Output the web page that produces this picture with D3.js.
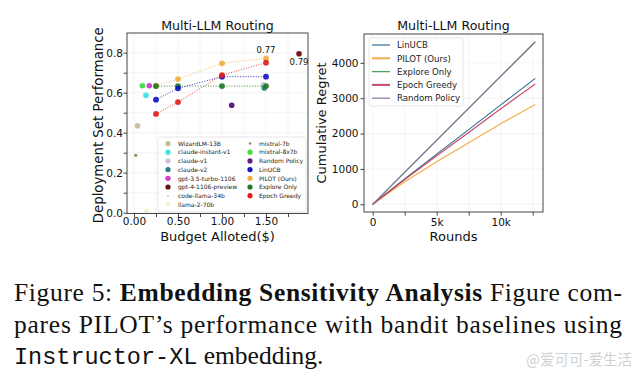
<!DOCTYPE html>
<html><head><meta charset="utf-8">
<script src="https://cdn.jsdelivr.net/npm/d3@7"></script>
<style>body{margin:0;background:#fff}svg{display:block}</style>
</head><body>
<svg id="c" width="639" height="380"></svg>
<script>
// ---------- data: left panel ----------
const modelNames = ["WizardLM-13B","claude-instant-v1","claude-v1","claude-v2","gpt-3.5-turbo-1106","gpt-4-1106-preview","code-llama-34b","llama-2-70b","mistral-7b","mixtral-8x7b"];
const modelCost  = [0.04, 0.136, 1.47, 1.48, 0.174, 1.875, 0.13, 0.145, 0.02, 0.095];
const modelPerf  = [0.435, 0.587, 0.64, 0.624, 0.635, 0.795, 0.005, 0.01, 0.287, 0.635];
const randomCost = [1.11];
const randomPerf = [0.537];
const budgets = [0.25, 0.5, 1.0, 1.5];
const linucbPerf  = [0.565, 0.622, 0.68, 0.68];
const pilotPerf   = [0.635, 0.668, 0.747, 0.772];
const explorePerf = [0.633, 0.633, 0.633, 0.633];
const epochPerf   = [0.494, 0.553, 0.688, 0.75];
const leftYTicks = [0.0, 0.2, 0.4, 0.6, 0.8];
const leftXTicks = [0.0, 0.5, 1.0, 1.5];
const leftXTickLabels = ["0.00", "0.50", "1.00", "1.50"];

// ---------- data: right panel ----------
const rounds = [0, 2500, 5000, 7500, 10000, 12700];
const regretLinUCB  = [0, 720, 1420, 2110, 2810, 3561];
const regretPILOT   = [0, 640, 1200, 1740, 2280, 2824];
const regretExplore = [0, 905, 1808, 2710, 3615, 4590];
const regretEpoch   = [0, 700, 1370, 2030, 2700, 3400];
const regretRandom  = [0, 908, 1815, 2720, 3625, 4598];
const rightYTicks = [0, 1000, 2000, 3000, 4000];
const rightXTicks = [0, 5000, 10000];
const rightXTickLabels = ["0", "5k", "10k"];

// ---------- styles ----------
const modelColors = ["#c9b99b","#3fe3e3","#cbc3d6","#2a7f80","#d23ad2","#6a0d0d","#b8b8b8","#f6f0c4","#8c8c45","#3fe03f"];
const modelRadius = [2.8,2.8,2.8,2.8,2.8,2.8,0.9,2.2,1.6,2.8];
const C = {linucb:"#1414c4", pilot:"#f0b040", explore:"#217a21", epoch:"#e01e1e", random:"#5f1f7f"};
const RC = {linucb:"#2f6d8c", pilot:"#f2a43a", explore:"#3a9a4a", epoch:"#c2385c", random:"#84709e"};

const svg = d3.select("#c");
svg.append("rect").attr("width",639).attr("height",380).attr("fill","#fff");
const font = "DejaVu Sans, sans-serif";

// ================= LEFT PANEL =================
const L = {l:127, r:308, t:33, b:213.5};
const xL = d3.scaleLinear().domain([-0.0795, 1.977]).range([L.l, L.r]);
const yL = d3.scaleLinear().domain([-0.004, 0.8985]).range([L.b, L.t]);
const gL = svg.append("g");

// grid
const xMinorL = d3.range(0, 1.76, 0.25);
const yMinorL = d3.range(0, 0.81, 0.1);
gL.selectAll(".gx").data(xMinorL).join("line").attr("x1",d=>xL(d)).attr("x2",d=>xL(d)).attr("y1",L.t).attr("y2",L.b).attr("stroke","#ececec").attr("stroke-width",0.6);
gL.selectAll(".gy").data(yMinorL).join("line").attr("y1",d=>yL(d)).attr("y2",d=>yL(d)).attr("x1",L.l).attr("x2",L.r).attr("stroke","#ececec").attr("stroke-width",0.6);

// axes
const axXL = d3.axisBottom(xL).tickValues(xMinorL).tickSize(3.5).tickFormat(d => { const i = leftXTicks.findIndex(v=>Math.abs(v-d)<1e-6); return i>=0 ? leftXTickLabels[i] : ""; });
const axYL = d3.axisLeft(yL).tickValues(yMinorL).tickSize(3.5).tickFormat(d => leftYTicks.some(v=>Math.abs(v-d)<1e-6) ? d3.format(".1f")(d) : "");
gL.append("g").attr("transform",`translate(0,${L.b})`).call(axXL).call(g=>{g.select(".domain").remove();g.selectAll("text").attr("font-size",10.5).attr("font-family",font).attr("fill","#111").attr("y",4).attr("dy","0.71em");g.selectAll("line").attr("stroke","#444");});
gL.append("g").attr("transform",`translate(${L.l},0)`).call(axYL).call(g=>{g.select(".domain").remove();g.selectAll("text").attr("font-size",10.5).attr("font-family",font).attr("fill","#111").attr("x",-4);g.selectAll("line").attr("stroke","#444");});

// dotted series lines
const lineL = d3.line().x(d=>xL(d[0])).y(d=>yL(d[1]));
const series = [
  {v:explorePerf, c:C.explore},
  {v:epochPerf, c:C.epoch},
  {v:linucbPerf, c:C.linucb},
  {v:pilotPerf, c:C.pilot}
];
series.forEach(s=>{
  gL.append("path").attr("d", lineL(budgets.map((b,i)=>[b,s.v[i]]))).attr("fill","none").attr("stroke",s.c).attr("stroke-width",1).attr("stroke-dasharray","1,1.6").attr("opacity",0.85);
});
// model points
modelNames.forEach((n,i)=>{
  gL.append("circle").attr("cx",xL(modelCost[i])).attr("cy",yL(modelPerf[i])).attr("r",modelRadius[i]).attr("fill",modelColors[i]).attr("opacity",0.95);
});
gL.append("circle").attr("cx",xL(randomCost[0])).attr("cy",yL(randomPerf[0])).attr("r",2.8).attr("fill",C.random);
// bandit points
[{v:pilotPerf,c:C.pilot},{v:explorePerf,c:C.explore},{v:linucbPerf,c:C.linucb},{v:epochPerf,c:C.epoch}].forEach(s=>{
  budgets.forEach((b,i)=>gL.append("circle").attr("cx",xL(b)).attr("cy",yL(s.v[i])).attr("r",2.9).attr("fill",s.c).attr("opacity",0.92));
});
// annotations
gL.append("text").attr("x",xL(budgets[3])).attr("y",yL(pilotPerf[3])-5).attr("text-anchor","middle").attr("font-size",8.5).attr("font-family",font).attr("fill","#111").text("0.77");
gL.append("text").attr("x",xL(modelCost[5])).attr("y",yL(modelPerf[5])+11).attr("text-anchor","middle").attr("font-size",8.5).attr("font-family",font).attr("fill","#111").text("0.79");

// spines
gL.append("rect").attr("x",L.l).attr("y",L.t).attr("width",L.r-L.l).attr("height",L.b-L.t).attr("fill","none").attr("stroke","#333").attr("stroke-width",0.9);

// legend
const legL = gL.append("g");
legL.append("rect").attr("x",158).attr("y",137).attr("width",148).attr("height",75).attr("fill","#fff").attr("fill-opacity",0.85).attr("stroke","#ddd").attr("stroke-width",0.7).attr("rx",2);
const legItemsL = modelNames.slice(0,8).map((n,i)=>({n, c:modelColors[i], r:modelRadius[i]}));
const legItemsR = [
  {n:modelNames[8], c:modelColors[8], r:1.2},
  {n:modelNames[9], c:modelColors[9], r:2.6},
  {n:"Random Policy", c:C.random, r:2.6},
  {n:"LinUCB", c:C.linucb, r:2.6},
  {n:"PILOT (Ours)", c:C.pilot, r:2.6},
  {n:"Explore Only", c:C.explore, r:2.6},
  {n:"Epoch Greedy", c:C.epoch, r:2.6}
];
legItemsL.forEach((d,i)=>{
  const y = 143.5 + i*8.7;
  legL.append("circle").attr("cx",168).attr("cy",y).attr("r",Math.min(d.r,2.6)).attr("fill",d.c);
  legL.append("text").attr("x",178).attr("y",y+2.2).attr("font-size",6).attr("font-family",font).attr("fill","#222").text(d.n);
});
legItemsR.forEach((d,i)=>{
  const y = 143.5 + i*8.7;
  legL.append("circle").attr("cx",250).attr("cy",y).attr("r",d.r).attr("fill",d.c);
  legL.append("text").attr("x",259).attr("y",y+2.2).attr("font-size",6).attr("font-family",font).attr("fill","#222").text(d.n);
});

// titles
gL.append("text").attr("x",(L.l+L.r)/2).attr("y",30).attr("text-anchor","middle").attr("font-size",12.6).attr("font-family",font).attr("fill","#111").text("Multi-LLM Routing");
gL.append("text").attr("x",(L.l+L.r)/2).attr("y",241).attr("text-anchor","middle").attr("font-size",13).attr("font-family",font).attr("fill","#111").text("Budget Alloted($)");
gL.append("text").attr("transform",`translate(103,${(L.t+L.b)/2+2}) rotate(-90)`).attr("text-anchor","middle").attr("font-size",13.3).attr("font-family",font).attr("fill","#111").text("Deployment Set Performance");

// ================= RIGHT PANEL =================
const R = {l:364, r:543, t:34, b:212};
const xR = d3.scaleLinear().domain([-680, 13305]).range([R.l, R.r]);
const yR = d3.scaleLinear().domain([-218, 4816]).range([R.b, R.t]);
const gR = svg.append("g");
const xMinorR = d3.range(0, 12501, 2500);
gR.selectAll(".gx").data(xMinorR).join("line").attr("x1",d=>xR(d)).attr("x2",d=>xR(d)).attr("y1",R.t).attr("y2",R.b).attr("stroke","#ececec").attr("stroke-width",0.6);
gR.selectAll(".gy").data(rightYTicks).join("line").attr("y1",d=>yR(d)).attr("y2",d=>yR(d)).attr("x1",R.l).attr("x2",R.r).attr("stroke","#ececec").attr("stroke-width",0.6);

const axXR = d3.axisBottom(xR).tickValues(xMinorR).tickSize(3.5).tickFormat(d=>{const i=rightXTicks.indexOf(d);return i>=0?rightXTickLabels[i]:"";});
const axYR = d3.axisLeft(yR).tickValues(rightYTicks).tickSize(3.5).tickFormat(d3.format("d"));
gR.append("g").attr("transform",`translate(0,${R.b})`).call(axXR).call(g=>{g.select(".domain").remove();g.selectAll("text").attr("font-size",10.5).attr("font-family",font).attr("fill","#111").attr("y",7).attr("dy","0.71em");g.selectAll("line").attr("stroke","#444");});
gR.append("g").attr("transform",`translate(${R.l},0)`).call(axYR).call(g=>{g.select(".domain").remove();g.selectAll("text").attr("font-size",10.5).attr("font-family",font).attr("fill","#111").attr("x",-5.5);g.selectAll("line").attr("stroke","#444");});

const lineR = d3.line().x(d=>xR(d[0])).y(d=>yR(d[1]));
const rSeries = [
  {n:"LinUCB", v:regretLinUCB, c:RC.linucb, w:1.1, o:1},
  {n:"PILOT (Ours)", v:regretPILOT, c:RC.pilot, w:1.2, o:0.9},
  {n:"Explore Only", v:regretExplore, c:RC.explore, w:1.1, o:0.9},
  {n:"Epoch Greedy", v:regretEpoch, c:RC.epoch, w:1.2, o:0.9},
  {n:"Random Policy", v:regretRandom, c:RC.random, w:1.1, o:1}
];
rSeries.forEach(s=>{
  gR.append("path").attr("d", lineR(rounds.map((r,i)=>[r,s.v[i]]))).attr("fill","none").attr("stroke",s.c).attr("stroke-width",s.w).attr("opacity",s.o);
});
gR.append("rect").attr("x",R.l).attr("y",R.t).attr("width",R.r-R.l).attr("height",R.b-R.t).attr("fill","none").attr("stroke","#333").attr("stroke-width",0.9);

// right legend
const legR = gR.append("g");
legR.append("rect").attr("x",369).attr("y",38).attr("width",94).attr("height",68).attr("fill","#fff").attr("fill-opacity",0.85).attr("stroke","#ddd").attr("stroke-width",0.7).attr("rx",2);
rSeries.forEach((s,i)=>{
  const y = 45 + i*13.3;
  legR.append("line").attr("x1",372).attr("x2",390).attr("y1",y).attr("y2",y).attr("stroke",s.c).attr("stroke-width",(s.n==="PILOT (Ours)"||s.n==="Epoch Greedy")?2:1.3).attr("opacity",0.9);
  legR.append("text").attr("x",397).attr("y",y+3.2).attr("font-size",8.6).attr("font-family",font).attr("fill","#222").text(s.n);
});

gR.append("text").attr("x",(R.l+R.r)/2).attr("y",30).attr("text-anchor","middle").attr("font-size",12.6).attr("font-family",font).attr("fill","#111").text("Multi-LLM Routing");
gR.append("text").attr("x",(R.l+R.r)/2).attr("y",241).attr("text-anchor","middle").attr("font-size",13).attr("font-family",font).attr("fill","#111").text("Rounds");
gR.append("text").attr("transform",`translate(326,${(R.t+R.b)/2}) rotate(-90)`).attr("text-anchor","middle").attr("font-size",13).attr("font-family",font).attr("fill","#111").text("Cumulative Regret");

// ================= CAPTION =================
const serif = "Liberation Serif, Times New Roman, serif";
const cap = svg.append("g").attr("font-family",serif).attr("font-size",25.5).attr("fill","#111");
const t1 = cap.append("text").attr("x",14).attr("y",301).attr("textLength",608).attr("lengthAdjust","spacing");
t1.append("tspan").text("Figure 5: ");
t1.append("tspan").attr("font-weight","bold").text("Embedding Sensitivity Analysis");
t1.append("tspan").text(" Figure com-");
cap.append("text").attr("x",14).attr("y",333).attr("textLength",608).attr("lengthAdjust","spacing").text("pares PILOT\u2019s performance with bandit baselines using");
const t3 = cap.append("text").attr("x",14).attr("y",364);
t3.append("tspan").attr("font-family","Liberation Mono, DejaVu Sans Mono, monospace").attr("font-size",23.5).text("Instructor-XL");
t3.append("tspan").text(" embedding.");
svg.append("text").attr("x",632).attr("y",365).attr("text-anchor","end").attr("font-family","Noto Sans CJK SC, sans-serif").attr("font-size",14.5).attr("fill","#d0d0d0").text("@爱可可-爱生活");
</script>
</body></html>
